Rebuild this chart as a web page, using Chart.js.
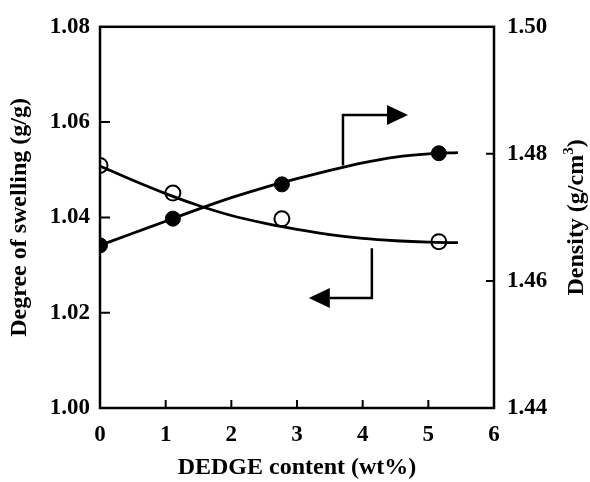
<!DOCTYPE html>
<html>
<head>
<meta charset="utf-8">
<script src="https://cdn.jsdelivr.net/npm/chart.js@4/dist/chart.umd.min.js"></script>
<style>
  html, body { margin: 0; padding: 0; background: #fff; }
  #wrap { width: 590px; height: 482px; }
</style>
</head>
<body>
<div id="wrap"><canvas id="chart" width="590" height="482"></canvas></div>
<script>
// ------------------ Data ------------------
const dedge = [0, 1.11, 2.77, 5.16];
const swelling = [1.0509, 1.0451, 1.0397, 1.0349];
const density = [1.4656, 1.4698, 1.4752, 1.4801];

// fitted curves as drawn in the figure
const curveX = [0, 0.5, 1, 1.5, 2, 2.5, 3, 3.5, 4, 4.5, 5, 5.45];
const swellingFit = [1.0508, 1.0478, 1.0450, 1.0425, 1.0404, 1.0388, 1.0375, 1.0364, 1.0356, 1.0351, 1.0348, 1.0347];
const densityFit = [1.4656, 1.4675, 1.4694, 1.4713, 1.4731, 1.4747, 1.4761, 1.4774, 1.4786, 1.4795, 1.4800, 1.4802];

const xTicks = [0, 1, 2, 3, 4, 5, 6];
const leftTicks = [1.00, 1.02, 1.04, 1.06, 1.08];
const rightTicks = [1.44, 1.46, 1.48, 1.50];

// bracket arrows pointing to each axis (x, left-axis value)
const arrowRight = { x: [3.7, 3.7, 4.69], y: [1.0509, 1.0615, 1.0615] };
const arrowLeft = { x: [4.14, 4.14, 3.18], y: [1.0335, 1.0231, 1.0231] };

const FONT = "'Liberation Serif', 'Times New Roman', serif";
const TICK_SIZE = 23;
const TITLE_SIZE = 24;

const toXY = (xs, ys) => xs.map((x, i) => ({ x: x, y: ys[i] }));

// ------------------ Frame, inner ticks, arrows, right title ------------------
const decor = {
  id: "decor",
  afterDraw(chart) {
    const ctx = chart.ctx;
    const a = chart.chartArea;
    const sx = chart.scales.x, sl = chart.scales.yL, sr = chart.scales.yR;
    ctx.save();
    ctx.strokeStyle = "#000";
    ctx.lineWidth = 2.5;
    ctx.strokeRect(a.left, a.top, a.right - a.left, a.bottom - a.top);

    ctx.lineWidth = 2;
    ctx.beginPath();
    xTicks.slice(1, -1).forEach(v => {
      const px = sx.getPixelForValue(v);
      ctx.moveTo(px, a.bottom); ctx.lineTo(px, a.bottom - 8);
    });
    leftTicks.slice(1, -1).forEach(v => {
      const py = sl.getPixelForValue(v);
      ctx.moveTo(a.left, py); ctx.lineTo(a.left + 10, py);
    });
    rightTicks.slice(1, -1).forEach(v => {
      const py = sr.getPixelForValue(v);
      ctx.moveTo(a.right, py); ctx.lineTo(a.right - 8, py);
    });
    ctx.stroke();

    // arrows
    [arrowRight, arrowLeft].forEach(arr => {
      const pts = arr.x.map((x, i) => [sx.getPixelForValue(x), sl.getPixelForValue(arr.y[i])]);
      const tip = pts[2];
      const dir = Math.sign(tip[0] - pts[1][0]);
      const headLen = 21, headHalf = 10;
      ctx.lineWidth = 2.5;
      ctx.beginPath();
      ctx.moveTo(pts[0][0], pts[0][1]);
      ctx.lineTo(pts[1][0], pts[1][1]);
      ctx.lineTo(tip[0] - dir * headLen, tip[1]);
      ctx.stroke();
      ctx.beginPath();
      ctx.moveTo(tip[0], tip[1]);
      ctx.lineTo(tip[0] - dir * headLen, tip[1] - headHalf);
      ctx.lineTo(tip[0] - dir * headLen, tip[1] + headHalf);
      ctx.closePath();
      ctx.fillStyle = "#000";
      ctx.fill();
    });

    // right axis title, reading bottom to top
    ctx.translate(577, (a.top + a.bottom) / 2);
    ctx.rotate(-Math.PI / 2);
    ctx.fillStyle = "#000";
    ctx.textBaseline = "middle";
    const main = "Density (g/cm";
    ctx.font = "bold " + TITLE_SIZE + "px " + FONT;
    const w1 = ctx.measureText(main).width;
    ctx.font = "bold 15px " + FONT;
    const w2 = ctx.measureText("3").width;
    ctx.font = "bold " + TITLE_SIZE + "px " + FONT;
    const w3 = ctx.measureText(")").width;
    let x0 = -(w1 + w2 + w3) / 2;
    ctx.textAlign = "left";
    ctx.fillText(main, x0, 0);
    ctx.font = "bold 15px " + FONT;
    ctx.fillText("3", x0 + w1, -8);
    ctx.font = "bold " + TITLE_SIZE + "px " + FONT;
    ctx.fillText(")", x0 + w1 + w2, 0);
    ctx.restore();
  }
};

const tickFont = { family: FONT, size: TICK_SIZE, weight: "bold" };
const titleFont = { family: FONT, size: TITLE_SIZE, weight: "bold" };

new Chart(document.getElementById("chart"), {
  type: "scatter",
  data: {
    datasets: [
      {
        label: "Swelling fit",
        data: toXY(curveX, swellingFit),
        yAxisID: "yL",
        showLine: true,
        borderColor: "#000",
        borderWidth: 2.8,
        pointRadius: 0,
        cubicInterpolationMode: "monotone"
      },
      {
        label: "Density fit",
        data: toXY(curveX, densityFit),
        yAxisID: "yR",
        showLine: true,
        borderColor: "#000",
        borderWidth: 2.8,
        pointRadius: 0,
        cubicInterpolationMode: "monotone"
      },
      {
        label: "Degree of swelling",
        data: toXY(dedge, swelling),
        yAxisID: "yL",
        pointRadius: 7.5,
        pointBackgroundColor: "#fff",
        pointBorderColor: "#000",
        pointBorderWidth: 2
      },
      {
        label: "Density",
        data: toXY(dedge, density),
        yAxisID: "yR",
        pointRadius: 7.5,
        pointBackgroundColor: "#000",
        pointBorderColor: "#000",
        pointBorderWidth: 1
      }
    ]
  },
  options: {
    responsive: false,
    animation: false,
    layout: { padding: { top: 23, left: 0, right: 0, bottom: 0 } },
    plugins: { legend: { display: false }, tooltip: { enabled: false } },
    scales: {
      x: {
        type: "linear",
        min: 0, max: 6,
        afterBuildTicks: s => { s.ticks = xTicks.map(v => ({ value: v })); },
        afterFit: s => { s.height = 74; },
        grid: { display: false, drawTicks: false },
        border: { display: false },
        ticks: { padding: 13, color: "#000", font: tickFont, callback: v => String(v) },
        title: { display: true, text: "DEDGE content (wt%)", color: "#000", padding: { top: 0, bottom: 0 }, font: titleFont }
      },
      yL: {
        position: "left",
        min: 1.00, max: 1.08,
        afterBuildTicks: s => { s.ticks = leftTicks.map(v => ({ value: v })); },
        afterFit: s => { s.width = 100; },
        grid: { display: false, drawTicks: false },
        border: { display: false },
        ticks: { padding: 10, color: "#000", font: tickFont, callback: v => v.toFixed(2) },
        title: { display: true, text: "Degree of swelling (g/g)", color: "#000", padding: { top: 5, bottom: 0 }, font: titleFont }
      },
      yR: {
        position: "right",
        min: 1.44, max: 1.50,
        afterBuildTicks: s => { s.ticks = rightTicks.map(v => ({ value: v })); },
        afterFit: s => { s.width = 96; },
        grid: { display: false, drawTicks: false },
        border: { display: false },
        ticks: { padding: 13, color: "#000", font: tickFont, callback: v => v.toFixed(2) }
      }
    }
  },
  plugins: [decor]
});
</script>
</body>
</html>
